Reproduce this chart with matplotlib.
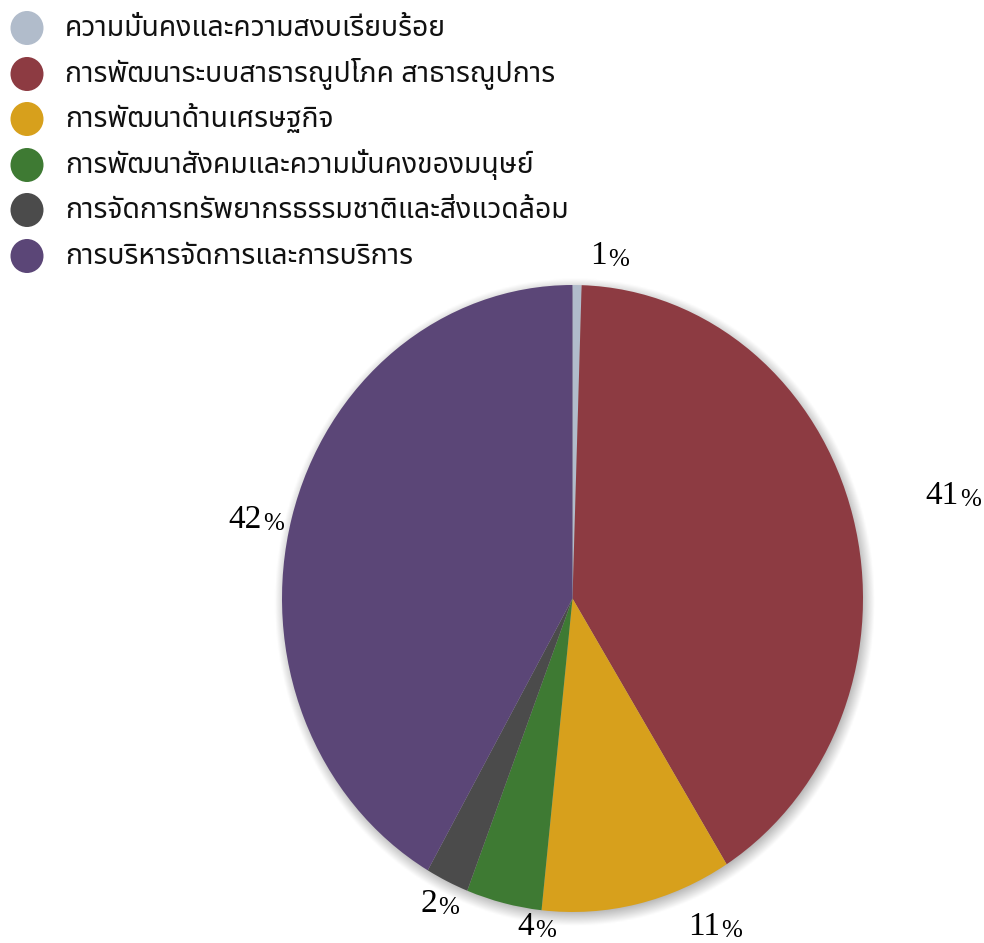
import numpy as np
import matplotlib
matplotlib.use("Agg")
import matplotlib.pyplot as plt
from matplotlib import font_manager
from matplotlib.ft2font import FT2Font
from matplotlib.patches import Ellipse
from matplotlib.transforms import offset_copy

# ---------------- data ----------------
categories = [
    "ความมั่นคงและความสงบเรียบร้อย",
    "การพัฒนาระบบสาธารณูปโภค สาธารณูปการ",
    "การพัฒนาด้านเศรษฐกิจ",
    "การพัฒนาสังคมและความมั่นคงของมนุษย์",
    "การจัดการทรัพยากรธรรมชาติและสิ่งแวดล้อม",
    "การบริหารจัดการและการบริการ",
]
values = [0.5, 40.6, 10.6, 4.2, 2.4, 41.7]
value_labels = ["1", "41", "11", "4", "2", "42"]

colors = ["#b1bccb", "#8d3b42", "#d7a01c", "#3e7a33", "#4b4b4b", "#5b4677"]

# label positions (axes data units, pie radius = 1)
label_pos = [(0.126, 1.093), (1.309, 0.329), (0.488, -1.048),
             (-0.126, -1.048), (-0.46, -0.974), (-1.091, 0.252)]

# ---------------- fonts ----------------
def find_thai_font():
    prefs = ["Noto Sans Thai", "Noto Sans Thai UI", "Loma", "Garuda", "Norasi",
             "Kinnari", "Umpush", "Waree", "Sawasdee", "TlwgTypo", "Laksaman"]
    found = {}
    for f in font_manager.fontManager.ttflist:
        try:
            cm = FT2Font(f.fname).get_charmap()
        except Exception:
            continue
        if 0x0E01 in cm and 0x0E21 in cm:
            found.setdefault(f.name, f.fname)
    for p in prefs:
        if p in found:
            return p
    if found:
        return sorted(found)[0]
    return "DejaVu Sans"

thai_font = find_thai_font()

W, H, DPI = 984, 943, 100
fig = plt.figure(figsize=(W / DPI, H / DPI), dpi=DPI)
fig.patch.set_facecolor("white")

# pie axes placed to match pixel extents (slightly elliptical pie)
px_l, px_r, px_t, px_b = 282, 863, 285, 912
ax = fig.add_axes([px_l / W, 1 - px_b / H, (px_r - px_l) / W, (px_b - px_t) / H])

wedges, _ = ax.pie(values, colors=colors, startangle=90, counterclock=False,
                   radius=1.0, wedgeprops=dict(linewidth=0))
for w in wedges:
    w.set_zorder(2)
ax.set_aspect("auto")
ax.set_xlim(-1, 1)
ax.set_ylim(-1, 1)
ax.axis("off")

# soft shadow
n = 400
ext = 1.12
xs = np.linspace(-ext, ext, n)
X, Y = np.meshgrid(xs, xs)
R = np.sqrt((X - 0.008) ** 2 + (Y + 0.012) ** 2)
alpha = np.clip((1.035 - R) / 0.05, 0, 1) * 0.30
img = np.zeros((n, n, 4))
img[..., 3] = alpha
im = ax.imshow(img, extent=(-ext, ext, -ext, ext), origin="lower", zorder=1,
               interpolation="bilinear", aspect="auto")
im.set_clip_on(False)
ax.set_xlim(-1, 1)
ax.set_ylim(-1, 1)

# percent labels (number + smaller %), group centred on position
renderer = fig.canvas.get_renderer()
for (lx, ly), lab in zip(label_pos, value_labels):
    pr = fig.text(0, 0, "%", fontsize=18, family="Liberation Serif")
    wp = pr.get_window_extent(renderer).width
    pr.remove()
    trans = offset_copy(ax.transData, fig=fig, x=-(wp / 2) * 72 / DPI, y=0,
                        units="points")
    t = ax.text(lx, ly, lab, ha="center", va="center", fontsize=24,
                family="Liberation Serif", color="black", clip_on=False,
                transform=trans)
    ax.annotate("%", xy=(1.0, 0.0), xycoords=t, xytext=(1, 0),
                textcoords="offset points", ha="left", va="bottom",
                fontsize=18, family="Liberation Serif", color="black",
                annotation_clip=False)

# ---------------- legend ----------------
row_y = [28, 74, 119, 165, 210, 256]
target_w = 447 - 65
probe = fig.text(0, 0, categories[0], fontsize=20, family=[thai_font, "DejaVu Sans"])
bb = probe.get_window_extent(renderer)
probe.remove()
fs = 20 * target_w / max(bb.width, 1)

for y, cat, c in zip(row_y, categories, colors):
    fig.patches.append(Ellipse((27 / W, 1 - y / H), 33 / W, 34 / H,
                               transform=fig.transFigure, facecolor=c,
                               edgecolor="none"))
    fig.text(65 / W, 1 - y / H, cat, fontsize=fs, va="center", ha="left",
             family=[thai_font, "DejaVu Sans"], color="#111111",
             weight="medium")

fig.savefig("out.png", dpi=DPI, facecolor="white")
